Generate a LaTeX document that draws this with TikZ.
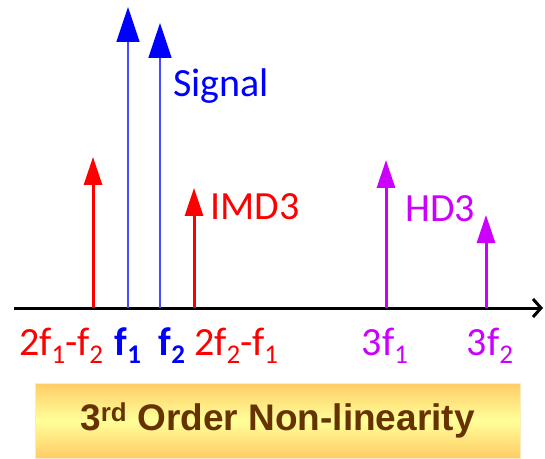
\documentclass[tikz,border=0pt]{standalone}
\usepackage{fontspec}
\setmainfont{Carlito}
\newfontfamily\bannerfont{Liberation Sans}
\usetikzlibrary{arrows.meta, positioning}
\definecolor{sigblue}{HTML}{0000FF}
\definecolor{siglineblue}{HTML}{4A4AFF}
\definecolor{imdred}{HTML}{FF0000}
\definecolor{hdmagenta}{HTML}{CC00FF}
\definecolor{bannerbrown}{HTML}{663300}
\definecolor{bannerorange}{HTML}{FFCC66}
\definecolor{banneryellow}{HTML}{FFFF99}
\newcommand{\lowidx}[1]{\raisebox{-0.22em}{\fontsize{27}{27}\selectfont #1}}

\begin{document}
\begin{tikzpicture}[x=1pt, y=1pt,
  lbl/.style={font=\fontsize{40}{48}\selectfont, inner sep=0pt, anchor=base},
  sigtone/.style={draw=siglineblue, line width=1.6pt,
    -{Triangle[width=23pt, length=35pt, color=sigblue, fill=sigblue]}},
  imdtone/.style={imdred, line width=3pt, -{Triangle[width=18pt, length=28pt]}},
  hdtone/.style={hdmagenta, line width=3pt, -{Triangle[width=18pt, length=28pt]}},
  bannerbox/.style={top color=bannerorange, bottom color=bannerorange, middle color=banneryellow,
    draw=bannerorange!40, minimum width=485pt, minimum height=75pt, inner sep=0pt}]
  \useasboundingbox (0,0) rectangle (545,458);

  % Frequency axis
  \coordinate (axstart) at (14,150);
  \coordinate (axend) at (543,150);
  \draw[line width=3pt, -{Straight Barb[length=8pt, width=18pt]}] (axstart) -- (axend);

  % Tones: base on the axis, tip at the height of each product
  \foreach \name/\x/\h in {imdlo/93/301, fone/128/451, ftwo/160/435, imdhi/194/270,
                           hdone/386/298, hdtwo/486/243} {
    \coordinate (\name-base) at (\x,150);
    \coordinate (\name-tip) at (\x,\h);
  }
  \draw[sigtone] (fone-base) -- (fone-tip);
  \draw[sigtone] (ftwo-base) -- (ftwo-tip);
  \draw[imdtone] (imdlo-base) -- (imdlo-tip);
  \draw[imdtone] (imdhi-base) -- (imdhi-tip);
  \draw[hdtone] (hdone-base) -- (hdone-tip);
  \draw[hdtone] (hdtwo-base) -- (hdtwo-tip);

  % Group labels
  \node[lbl, anchor=base west, sigblue] (signal) at (173,361) {Signal};
  \node[lbl, anchor=base west, imdred] (imd) at (210,238) {IMD3};
  \node[lbl, anchor=base west, hdmagenta] (hd) at (405,236) {HD3};

  % Axis labels
  \node[lbl, imdred] (lbl-imdlo) at (61,103) {2f\lowidx{1}-f\lowidx{2}};
  \node[lbl, sigblue, font=\fontsize{40}{48}\selectfont\bfseries] (lbl-fone) at (128,103) {f\lowidx{1}};
  \node[lbl, sigblue, font=\fontsize{40}{48}\selectfont\bfseries] (lbl-ftwo) at (172,103) {f\lowidx{2}};
  \node[lbl, imdred] (lbl-imdhi) at (236,103) {2f\lowidx{2}-f\lowidx{1}};
  \node[lbl, hdmagenta] (lbl-hdone) at (385,103) {3f\lowidx{1}};
  \node[lbl, hdmagenta] (lbl-hdtwo) at (490,103) {3f\lowidx{2}};

  % Caption banner
  \node[bannerbox, text=bannerbrown, font=\bannerfont\bfseries\fontsize{37}{44}\selectfont]
    (banner) at (277.5,37.5) {3\textsuperscript{rd} Order Non-linearity};
\end{tikzpicture}
\end{document}
